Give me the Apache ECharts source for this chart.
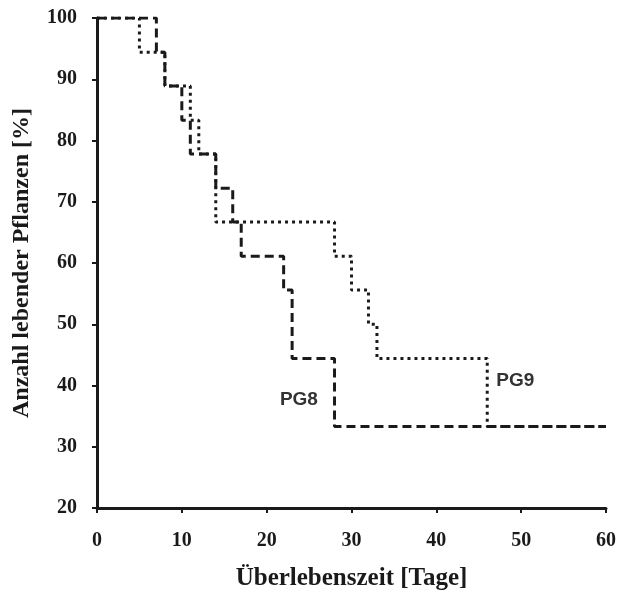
<!DOCTYPE html>
<html>
<head>
<meta charset="utf-8">
<script src="https://cdn.jsdelivr.net/npm/echarts@6/dist/echarts.min.js"></script>
<style>html,body{margin:0;padding:0;background:#fff;}#c{width:619px;height:596px;}</style>
</head>
<body>
<div id="c"></div>
<script>
// Data
const pg8Days   = [0, 7, 8, 10, 11, 14, 16, 17, 22, 23, 28, 60];
const pg8Values = [100, 94.4, 88.9, 83.3, 77.8, 72.2, 66.7, 61.1, 55.6, 44.4, 33.3, 33.3];
const pg9Days   = [0, 5, 8, 11, 12, 14, 28, 30, 32, 33, 46, 60];
const pg9Values = [100, 94.4, 88.9, 83.3, 77.8, 66.7, 61.1, 55.6, 50, 44.4, 33.3, 33.3];
const seriesNames = ['PG8', 'PG9'];
const labelAt = { PG8: [23.8, 37.6], PG9: [49.3, 40.7] };
const xTicks = [0, 10, 20, 30, 40, 50, 60];
const yTicks = [20, 30, 40, 50, 60, 70, 80, 90, 100];

const zip = (a, b) => a.map((v, i) => [v, b[i]]);
const ink = '#1a1a1a';
const serif = '"Liberation Serif", "Times New Roman", serif';

const chart = echarts.init(document.getElementById('c'), null, { renderer: 'canvas' });

function mk(name) {
  return {
    data: [{ coord: labelAt[name], value: name }],
    symbol: 'circle', symbolSize: 0,
    label: { show: true, position: 'inside', formatter: name,
      fontFamily: '"Liberation Sans", Arial, sans-serif', fontWeight: 'bold', fontSize: 19, color: '#333' },
    itemStyle: { color: 'transparent' }
  };
}

chart.setOption({
  animation: false,
  backgroundColor: '#fff',
  grid: { left: 97, right: 12, top: 18, bottom: 88, containLabel: false },
  xAxis: {
    type: 'value', min: xTicks[0], max: xTicks[xTicks.length - 1], interval: 10,
    name: 'Überlebenszeit [Tage]', nameLocation: 'middle', nameGap: 58,
    nameTextStyle: { fontFamily: serif, fontWeight: 'bold', fontSize: 25, color: ink },
    axisLine: { lineStyle: { color: ink, width: 3 } },
    axisTick: { show: true, length: 5, lineStyle: { color: ink, width: 2 } },
    axisLabel: { fontFamily: serif, fontWeight: 'bold', fontSize: 20, color: ink, margin: 23 },
    splitLine: { show: false }
  },
  yAxis: {
    type: 'value', min: yTicks[0], max: yTicks[yTicks.length - 1], interval: 10,
    name: 'Anzahl lebender Pflanzen [%]', nameLocation: 'middle', nameGap: 63, nameRotate: 90,
    nameTextStyle: { fontFamily: serif, fontWeight: 'bold', fontSize: 24, color: ink },
    axisLine: { show: true, lineStyle: { color: ink, width: 3 } },
    axisTick: { show: true, length: 5, lineStyle: { color: ink, width: 2 } },
    axisLabel: { fontFamily: serif, fontWeight: 'bold', fontSize: 20, color: ink, margin: 20 },
    splitLine: { show: false }
  },
  series: [
    {
      name: seriesNames[0], type: 'line', step: 'end', symbol: 'none',
      data: zip(pg8Days, pg8Values),
      lineStyle: { color: ink, width: 3, type: [9, 5] },
      markPoint: mk('PG8'), z: 3
    },
    {
      name: seriesNames[1], type: 'line', step: 'end', symbol: 'none',
      data: zip(pg9Days, pg9Values),
      lineStyle: { color: ink, width: 3, type: [3, 4] },
      markPoint: mk('PG9'), z: 2
    }
  ]
});
</script>
</body>
</html>
